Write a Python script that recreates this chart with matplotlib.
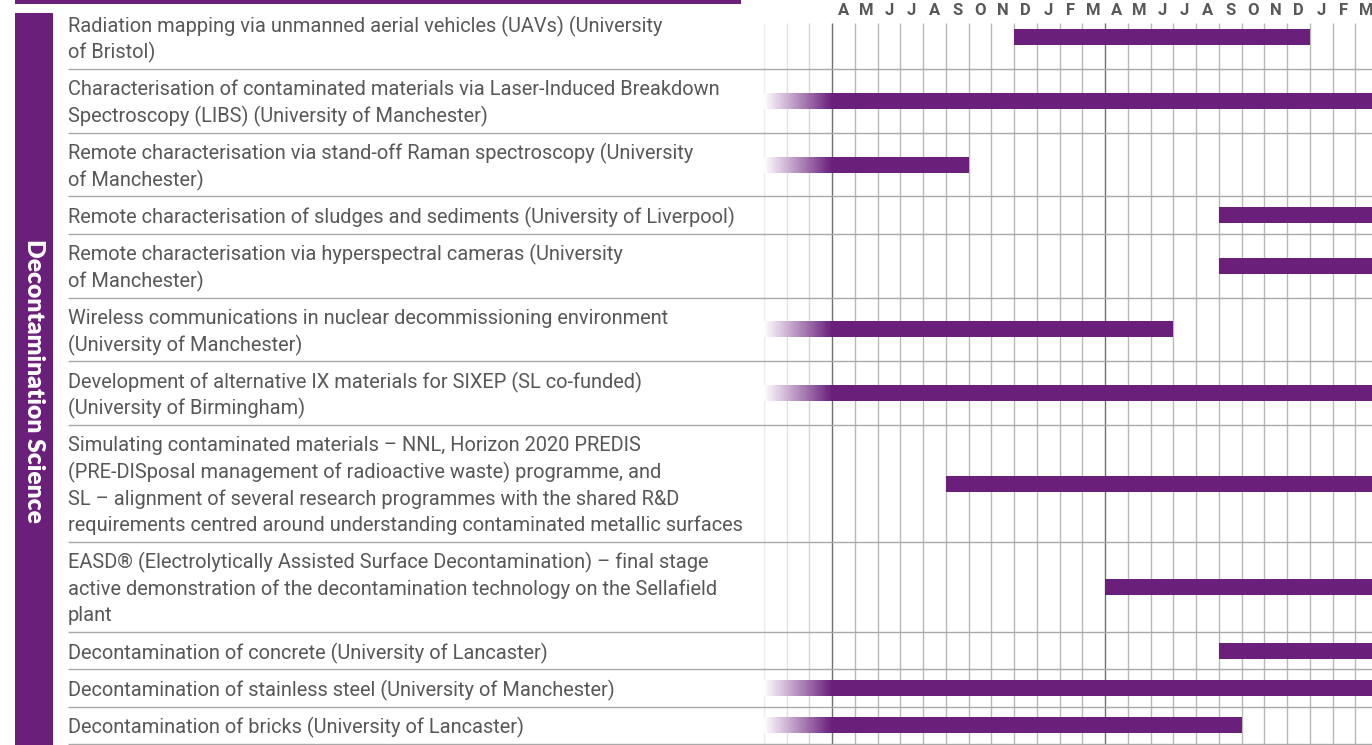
import matplotlib
matplotlib.use("Agg")
import matplotlib.pyplot as plt
import numpy as np
from matplotlib.patches import Rectangle
from matplotlib.colors import to_rgb
from matplotlib import font_manager

# ---------------- data ----------------
section_title = "Decontamination Science"
month_labels = ["A", "M", "J", "J", "A", "S", "O", "N", "D", "J", "F", "M",
                "A", "M", "J", "J", "A", "S", "O", "N", "D", "J", "F", "M"]
project_labels = [
    "Radiation mapping via unmanned aerial vehicles (UAVs) (University\nof Bristol)",
    "Characterisation of contaminated materials via Laser-Induced Breakdown\nSpectroscopy (LIBS) (University of Manchester)",
    "Remote characterisation via stand-off Raman spectroscopy (University\nof Manchester)",
    "Remote characterisation of sludges and sediments (University of Liverpool)",
    "Remote characterisation via hyperspectral cameras (University\nof Manchester)",
    "Wireless communications in nuclear decommissioning environment\n(University of Manchester)",
    "Development of alternative IX materials for SIXEP (SL co-funded)\n(University of Birmingham)",
    "Simulating contaminated materials \u2013 NNL, Horizon 2020 PREDIS\n(PRE-DISposal management of radioactive waste) programme, and\nSL \u2013 alignment of several research programmes with the shared R&D\nrequirements centred around understanding contaminated metallic surfaces",
    "EASD\u00ae (Electrolytically Assisted Surface Decontamination) \u2013 final stage\nactive demonstration of the decontamination technology on the Sellafield\nplant",
    "Decontamination of concrete (University of Lancaster)",
    "Decontamination of stainless steel (University of Manchester)",
    "Decontamination of bricks (University of Lancaster)",
]
# month index 0 = first April shown; start -3 = ongoing from before (faded)
bar_start = [8, -3, -3, 17, 17, -3, -3, 5, 12, 17, -3, -3]
bar_end = [21, 24, 6, 24, 24, 15, 24, 24, 24, 24, 24, 18]
continues_before = [False, True, True, False, False, True, True, False, False, False, True, True]

# ---------------- style / layout ----------------
PURPLE = "#6a1f7b"
TEXT_C = "#58585a"
W_PX, H_PX = 1372, 745
COL_PX = 22.75          # px per month
X_ZERO_PX = 832         # px of first April line
AX_LEFT_PX = 68
TOP_PX = 5
LINE_PX = 26.5
PAD_PX = 10.8
BAR_H = 16
N_FADE = 60

avail = {f.name for f in font_manager.fontManager.ttflist}
def pick(cands):
    for c in cands:
        if c in avail:
            return c
    return "DejaVu Sans"
label_font = pick(["Liberation Sans Narrow", "Roboto", "Liberation Sans"])
title_font = pick(["Lato", "Open Sans", "DejaVu Sans"])
head_font = pick(["Roboto", "Liberation Sans", "DejaVu Sans"])

fig = plt.figure(figsize=(W_PX / 100, H_PX / 100), dpi=100)
renderer = fig.canvas.get_renderer()

def fit_size(text, target_px, family, weight="normal", base=12):
    t = fig.text(0, 0, text, fontsize=base, family=family, weight=weight)
    w = t.get_window_extent(renderer).width
    t.remove()
    return base * target_px / w

label_fs = fit_size("requirements centred around understanding contaminated metallic surfaces", 741 - 68, label_font)
title_fs = fit_size(section_title, 282, title_font, weight="heavy")

ax = fig.add_axes([AX_LEFT_PX / W_PX, 0, 1 - AX_LEFT_PX / W_PX, 1])
x0 = -(X_ZERO_PX - AX_LEFT_PX) / COL_PX
x1 = (W_PX - X_ZERO_PX) / COL_PX
ax.axis("off")

# rows
n_lines = [lbl.count("\n") + 1 for lbl in project_labels]
heights = np.array([PAD_PX + n * LINE_PX for n in n_lines])
bottoms = TOP_PX + np.cumsum(heights)
tops = bottoms - heights
centers = (tops + bottoms) / 2

# vertical grid
grid_x = np.arange(-3, 24)
grid_colors = []
for g in grid_x:
    if g == -3:
        grid_colors.append("#ececec")
    elif g == -2:
        grid_colors.append("#e2e2e2")
    elif g == -1:
        grid_colors.append("#d6d6d6")
    elif g % 12 == 0:
        grid_colors.append("#707070")
    else:
        grid_colors.append("#b8b8b8")
ax.vlines(grid_x, 23, H_PX, colors=grid_colors, lw=1.0, zorder=1)

# horizontal separators
ax.hlines(bottoms, x0, x1, colors="#a9a9a9", lw=1.0, zorder=2)

# month header
for i, m in enumerate(month_labels):
    ax.text(i + 0.5, 10.5, m, ha="center", va="center", fontsize=12,
            weight="bold", color=TEXT_C, family=head_font, zorder=5)

# labels
for lbl, c, n in zip(project_labels, centers, n_lines):
    for j, line in enumerate(lbl.split("\n")):
        y = c + (j - (n - 1) / 2) * LINE_PX
        ax.text(x0, y, line, ha="left", va="center_baseline", fontsize=label_fs,
                family=label_font, color=TEXT_C, zorder=5)

# bars
p_rgb = np.array(to_rgb(PURPLE))
white = np.ones(3)
for s, e, cb, c in zip(bar_start, bar_end, continues_before, centers):
    if cb:
        edges = np.linspace(s, 0, N_FADE + 1)
        fracs = (np.arange(N_FADE) + 0.5) / N_FADE
        cols = [tuple(white + (p_rgb - white) * f) for f in fracs]
        ax.barh(np.full(N_FADE, c), np.diff(edges) * 1.02, left=edges[:-1], height=BAR_H,
                color=cols, zorder=3, linewidth=0)
        ax.barh(c, e - 0, left=0, height=BAR_H, color=PURPLE, zorder=3, linewidth=0)
    else:
        ax.barh(c, e - s, left=s, height=BAR_H, color=PURPLE, zorder=3, linewidth=0)

ax.set_xlim(x0, x1)
ax.set_ylim(H_PX, 0)

# left section decoration
fig.add_artist(Rectangle((15 / W_PX, 0), (53 - 15) / W_PX, (H_PX - 13) / H_PX,
                         transform=fig.transFigure, color=PURPLE, lw=0))
fig.add_artist(Rectangle((15 / W_PX, 1 - 3.5 / H_PX), (741 - 15) / W_PX, 3.5 / H_PX,
                         transform=fig.transFigure, color=PURPLE, lw=0))
fig.text(34 / W_PX, 1 - 381 / H_PX, section_title, rotation=270, ha="center", va="center",
         color="white", weight="heavy", fontsize=title_fs, family=title_font)

fig.savefig("out.png", dpi=100)
